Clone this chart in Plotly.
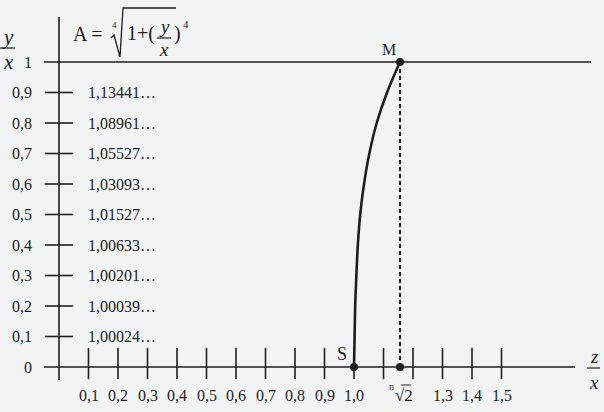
import plotly.graph_objects as go

# ---------------- data ----------------
y_ticks = [0.1, 0.2, 0.3, 0.4, 0.5, 0.6, 0.7, 0.8, 0.9]
y_tick_labels = ["0,1", "0,2", "0,3", "0,4", "0,5", "0,6", "0,7", "0,8", "0,9"]
a_values = ["1,00024…", "1,00039…", "1,00201…", "1,00633…", "1,01527…",
            "1,03093…", "1,05527…", "1,08961…", "1,13441…"]
x_ticks = [0.1, 0.2, 0.3, 0.4, 0.5, 0.6, 0.7, 0.8, 0.9, 1.0, 1.1, 1.2, 1.3, 1.4, 1.5]
x_tick_labels = ["0,1", "0,2", "0,3", "0,4", "0,5", "0,6", "0,7", "0,8", "0,9",
                 "1,0", "", "", "1,3", "1,4", "1,5"]
root_x = 1.156          # position of the n-th root of 2 on the z/x axis
curve_y = [0.0, 0.1, 0.2, 0.3, 0.4, 0.5, 0.6, 0.7, 0.8, 0.9, 1.0]
curve_x = [1.000, 1.002, 1.004, 1.008, 1.013, 1.021, 1.034, 1.052, 1.077, 1.112, 1.156]

# ---------------- geometry / style ----------------
W, H = 604, 412
X0, SX = 59, 295     # pixel of x=0, pixels per unit
Y0, SY = 367, 305    # pixel of y=0, pixels per unit
INK = "#1e1e1e"
BG = "#f2f3f3"
FONT = "Liberation Serif"


def dx(px):
    return (px - X0) / SX


def dy(py):
    return (Y0 - py) / SY


def px_(x):
    return x / W


def py_(y):
    return 1 - y / H


fig = go.Figure()

shapes = []
# axes
shapes.append(dict(type="line", xref="x", yref="y", x0=dx(44), x1=dx(575), y0=0, y1=0,
                   line=dict(color=INK, width=1.6)))
shapes.append(dict(type="line", xref="x", yref="y", x0=0, x1=0, y0=dy(380), y1=dy(17),
                   line=dict(color=INK, width=1.6)))
# line y/x = 1
shapes.append(dict(type="line", xref="x", yref="y", x0=dx(44), x1=dx(591), y0=1, y1=1,
                   line=dict(color=INK, width=1.6)))
# y ticks
for v in y_ticks:
    shapes.append(dict(type="line", xref="x", yref="y", x0=dx(45), x1=dx(73), y0=v, y1=v,
                       line=dict(color=INK, width=1.6)))
# x ticks
for v in x_ticks:
    shapes.append(dict(type="line", xref="x", yref="y", x0=v, x1=v, y0=dy(348), y1=dy(379),
                       line=dict(color=INK, width=1.6)))
# dashed vertical from M to axis
shapes.append(dict(type="line", xref="x", yref="y", x0=root_x, x1=root_x, y0=0, y1=1,
                   line=dict(color=INK, width=2, dash="4px,3px")))


def pth(pts):
    return "M " + " L ".join(f"{px_(a):.5f},{py_(b):.5f}" for a, b in pts)


# radical sign of the formula
shapes.append(dict(type="path", xref="paper", yref="paper",
                   path=pth([(111, 38), (114, 35), (120, 57), (123, 8), (176, 8)]),
                   line=dict(color=INK, width=1.3)))
# fraction bar in formula
shapes.append(dict(type="line", xref="paper", yref="paper", x0=px_(157), x1=px_(171),
                   y0=py_(38), y1=py_(38), line=dict(color=INK, width=1.2)))
# y/x label bar
shapes.append(dict(type="line", xref="paper", yref="paper", x0=px_(0), x1=px_(15),
                   y0=py_(48), y1=py_(48), line=dict(color=INK, width=1.2)))
# z/x label bar
shapes.append(dict(type="line", xref="paper", yref="paper", x0=px_(587), x1=px_(600),
                   y0=py_(368), y1=py_(368), line=dict(color=INK, width=1.2)))
# overline of root label
shapes.append(dict(type="line", xref="paper", yref="paper", x0=px_(401), x1=px_(411),
                   y0=py_(385), y1=py_(385), line=dict(color=INK, width=1.0)))

# curve
fig.add_trace(go.Scatter(x=curve_x, y=curve_y, mode="lines",
                         line=dict(color=INK, width=2.6, shape="spline", smoothing=1.0),
                         hoverinfo="skip", showlegend=False))
# points S, M and root
fig.add_trace(go.Scatter(x=[curve_x[0], root_x, root_x], y=[curve_y[0], 1, 0], mode="markers",
                         marker=dict(color=INK, size=8), hoverinfo="skip", showlegend=False))

ann = []


def t(x, y, text, size=16, xa="center", ya="middle", xref="x", yref="y"):
    ann.append(dict(x=x, y=y, xref=xref, yref=yref, text=text, showarrow=False,
                    xanchor=xa, yanchor=ya, font=dict(family=FONT, size=size, color=INK)))


# y tick labels and A values
for v, lab, a in zip(y_ticks, y_tick_labels, a_values):
    t(dx(34), v, lab, xa="right")
    t(dx(86), v, a, xa="left")
t(dx(34), 1, "1", xa="right")
t(dx(34), 0, "0", xa="right")

# x tick labels
for v, lab in zip(x_ticks, x_tick_labels):
    if lab:
        t(v, dy(395), lab)
# root label
t(px_(391), py_(386), "n", size=10, xref="paper", yref="paper")
t(px_(404), py_(395), "√2", size=17, xref="paper", yref="paper")

# point labels
t(px_(389), py_(49), "M", size=16, xref="paper", yref="paper")
t(px_(342), py_(354), "S", size=18, xref="paper", yref="paper")

# axis name fractions
t(px_(8), py_(37), "<i>y</i>", size=21, xref="paper", yref="paper")
t(px_(8), py_(62), "<i>x</i>", size=21, xref="paper", yref="paper")
t(px_(594), py_(356), "<i>z</i>", size=19, xref="paper", yref="paper")
t(px_(594), py_(382), "<i>x</i>", size=19, xref="paper", yref="paper")

# formula
t(px_(71), py_(34), "A =", size=20, xa="left", xref="paper", yref="paper")
t(px_(114), py_(25), "4", size=9, xref="paper", yref="paper")
t(px_(125), py_(34), "1+(", size=20, xa="left", xref="paper", yref="paper")
t(px_(164), py_(27), "<i>y</i>", size=19, xref="paper", yref="paper")
t(px_(164), py_(50), "<i>x</i>", size=19, xref="paper", yref="paper")
t(px_(172), py_(34), ")", size=20, xa="left", xref="paper", yref="paper")
t(px_(186), py_(24), "4", size=11, xref="paper", yref="paper")

fig.update_layout(
    width=W, height=H,
    margin=dict(l=0, r=0, t=0, b=0),
    paper_bgcolor=BG, plot_bgcolor=BG,
    xaxis=dict(range=[dx(0), dx(W)], visible=False, fixedrange=True),
    yaxis=dict(range=[dy(H), dy(0)], visible=False, fixedrange=True),
    shapes=shapes, annotations=ann, showlegend=False,
)

fig.write_html(
    "out.html",
    config={"displayModeBar": False, "staticPlot": True},
    post_script="document.body.style.margin='0';document.body.style.overflow='hidden';",
)
